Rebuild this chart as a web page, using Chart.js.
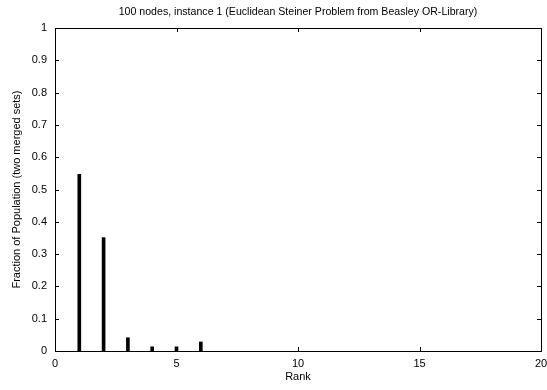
<!DOCTYPE html>
<html>
<head>
<meta charset="utf-8">
<script src="https://cdn.jsdelivr.net/npm/chart.js@4/dist/chart.umd.min.js"></script>
<style>
html,body{margin:0;padding:0;background:#fff;}
#wrap{width:547px;height:390px;position:relative;}
</style>
</head>
<body>
<div id="wrap"><canvas id="c" width="547" height="390"></canvas></div>
<script>
const ranks = [1, 2, 3, 4, 5, 6];
const fractions = [0.547, 0.351, 0.041, 0.013, 0.013, 0.028];
const xTicks = [0, 5, 10, 15, 20];
const yTicks = [0, 0.1, 0.2, 0.3, 0.4, 0.5, 0.6, 0.7, 0.8, 0.9, 1];
const titleText = '100 nodes, instance 1 (Euclidean Steiner Problem from Beasley OR-Library)';
const xTitle = 'Rank';
const yTitle = 'Fraction of Population (two merged sets)';

const FONT = 'Liberation Sans, Arial, Helvetica, sans-serif';

const frame = {
  id: 'frame',
  afterDatasetsDraw(chart) {
    const {ctx, chartArea: a, scales} = chart;
    ctx.save();
    ctx.strokeStyle = '#000';
    ctx.lineWidth = 1;
    const L = 4;
    ctx.beginPath();
    xTicks.forEach(v => {
      const px = Math.round(scales.x.getPixelForValue(v)) + 0.5;
      ctx.moveTo(px, a.bottom); ctx.lineTo(px, a.bottom - L);
      ctx.moveTo(px, a.top); ctx.lineTo(px, a.top + L);
    });
    yTicks.forEach(v => {
      const py = Math.round(scales.y.getPixelForValue(v)) + 0.5;
      ctx.moveTo(a.left, py); ctx.lineTo(a.left + L, py);
      ctx.moveTo(a.right, py); ctx.lineTo(a.right - L, py);
    });
    ctx.stroke();
    ctx.strokeRect(Math.round(a.left) + 0.5, Math.round(a.top) + 0.5,
                   Math.round(a.right - a.left), Math.round(a.bottom - a.top));
    ctx.restore();
  }
};

new Chart(document.getElementById('c'), {
  type: 'bar',
  data: {
    datasets: [{
      data: ranks.map((r, i) => ({x: r, y: fractions[i]})),
      backgroundColor: '#000',
      borderWidth: 0,
      barThickness: 3
    }]
  },
  options: {
    responsive: false,
    animation: false,
    layout: {padding: {left: 0, right: 6, top: 0, bottom: 0}},
    plugins: {
      legend: {display: false},
      tooltip: {enabled: false},
      title: {
        display: true,
        text: titleText,
        fullSize: false,
        color: '#000',
        font: {family: FONT, size: 10.6, weight: 'normal'},
        padding: {top: 6, bottom: 9.3}
      }
    },
    scales: {
      x: {
        type: 'linear',
        min: 0, max: 20,
        offset: false,
        afterBuildTicks: s => { s.ticks = xTicks.map(v => ({value: v})); },
        afterFit: s => { s.height = 39; s.paddingLeft = 0; s.paddingRight = 0; },
        grid: {display: false, drawTicks: false},
        border: {display: false},
        ticks: {color: '#000', padding: 6, maxRotation: 0, font: {family: FONT, size: 11}},
        title: {display: true, text: xTitle, color: '#000', font: {family: FONT, size: 11}, padding: {top: 2, bottom: 6}}
      },
      y: {
        min: 0, max: 1,
        afterBuildTicks: s => { s.ticks = yTicks.map(v => ({value: v})); },
        afterFit: s => { s.width = 55; s.paddingTop = 0; s.paddingBottom = 0; },
        grid: {display: false, drawTicks: false},
        border: {display: false},
        ticks: {color: '#000', padding: 8, font: {family: FONT, size: 11},
                callback: v => String(Math.round(v * 10) / 10)},
        title: {display: true, text: yTitle, color: '#000', font: {family: FONT, size: 11}, padding: {top: 10, bottom: 0}}
      }
    }
  },
  plugins: [frame]
});
</script>
</body>
</html>
